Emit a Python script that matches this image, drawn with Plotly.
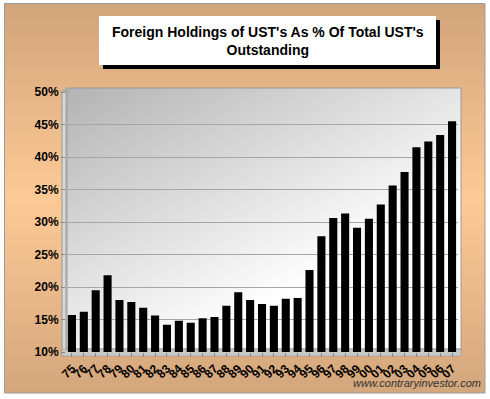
import base64
import plotly.graph_objects as go

years = ["75", "76", "77", "78", "79", "80", "81", "82", "83", "84", "85", "86",
         "87", "88", "89", "90", "91", "92", "93", "94", "95", "96", "97", "98",
         "99", "00", "01", "02", "03", "04", "05", "06", "07"]
foreign_pct = [15.7, 16.2, 19.5, 21.8, 18.0, 17.7, 16.8, 15.6, 14.2, 14.8, 14.5, 15.2,
               15.4, 17.1, 19.2, 18.0, 17.4, 17.1, 18.2, 18.3, 22.6, 27.8, 30.6, 31.3,
               29.1, 30.5, 32.7, 35.6, 37.7, 41.5, 42.4, 43.4, 45.5]
y_ticks = [10, 15, 20, 25, 30, 35, 40, 45, 50]
y_ticktext = [f"{v}%" for v in y_ticks]

W, H = 490, 399
L, R, T, B = 66, 32, 92, 47
PW, PH = W - L - R, H - T - B


def px(x):
    return (x - L) / PW


def py(y):
    return (H - B - y) / PH


def svg_uri(svg):
    return "data:image/svg+xml;base64," + base64.b64encode(svg.encode()).decode()


tan_svg = ('<svg xmlns="http://www.w3.org/2000/svg" width="100" height="100" preserveAspectRatio="none" viewBox="0 0 100 100">'
           '<defs><linearGradient id="g" x1="0" y1="0" x2="0" y2="1">'
           '<stop offset="0" stop-color="#D1A47A"/><stop offset="0.5" stop-color="#FDCA96"/>'
           '<stop offset="1" stop-color="#D3A67C"/></linearGradient></defs>'
           '<rect width="100" height="100" fill="url(#g)"/></svg>')
plot_svg = ('<svg xmlns="http://www.w3.org/2000/svg" width="100" height="100" preserveAspectRatio="none" viewBox="0 0 100 100">'
            '<defs><linearGradient id="p" x1="0" y1="0" x2="0.8" y2="1">'
            '<stop offset="0" stop-color="#B3B3B3"/><stop offset="0.75" stop-color="#FFFFFF"/>'
            '<stop offset="1" stop-color="#FFFFFF"/></linearGradient></defs>'
            '<rect width="100" height="100" fill="url(#p)"/></svg>')

fig = go.Figure()
fig.add_trace(go.Bar(x=years, y=foreign_pct, marker=dict(color="#000000", line=dict(width=0)),
                     width=0.68, hoverinfo="x+y"))

images = [
    dict(source=svg_uri(tan_svg), xref="paper", yref="paper", x=px(5), y=py(4),
         sizex=px(485) - px(5), sizey=py(4) - py(393), sizing="stretch",
         xanchor="left", yanchor="top", layer="below"),
    dict(source=svg_uri(plot_svg), xref="paper", yref="paper", x=px(66), y=py(88),
         sizex=px(461) - px(66), sizey=py(88) - py(352), sizing="stretch",
         xanchor="left", yanchor="top", layer="below"),
]

shapes = [
    # left wall
    dict(type="rect", xref="paper", yref="paper", x0=px(62), x1=px(67), y0=py(356), y1=py(91),
         fillcolor="#D8D8D8", line=dict(color="#999999", width=1), layer="below"),
    # floor
    dict(type="rect", xref="paper", yref="paper", x0=px(62), x1=px(461), y0=py(356), y1=py(349),
         fillcolor="#C8C8C8", line=dict(color="#999999", width=0.5), layer="below"),
    # plot border
    dict(type="rect", xref="paper", yref="paper", x0=px(66), x1=px(461), y0=py(349), y1=py(88),
         fillcolor="rgba(0,0,0,0)", line=dict(color="#9A9A9A", width=1), layer="below"),
    # tan border line
    dict(type="rect", xref="paper", yref="paper", x0=px(4.5), x1=px(485), y0=py(393), y1=py(3.5),
         fillcolor="rgba(0,0,0,0)", line=dict(color="#9C9C9C", width=1), layer="below"),
    # title box shadow
    dict(type="rect", xref="paper", yref="paper", x0=px(103), x1=px(440), y0=py(69), y1=py(20),
         fillcolor="#000000", line=dict(width=0), layer="above"),
    # title box
    dict(type="rect", xref="paper", yref="paper", x0=px(99), x1=px(436), y0=py(65), y1=py(16),
         fillcolor="#FFFFFF", line=dict(width=0), layer="above"),
]

annotations = [
    dict(text="<b>Foreign Holdings of UST's As % Of Total UST's<br>Outstanding</b>",
         xref="paper", yref="paper", x=px(267.5), y=py(41), xanchor="center", yanchor="middle",
         showarrow=False, font=dict(family="Liberation Sans, Arial", size=14, color="#000000"),
         align="center"),
    dict(text="<i>www.contraryinvestor.com</i>", xref="paper", yref="paper",
         x=px(483), y=py(383), xanchor="right", yanchor="middle", showarrow=False,
         font=dict(family="Liberation Sans, Arial", size=11, color="#333333")),
]

fig.update_layout(
    width=W, height=H,
    margin=dict(l=L, r=R, t=T, b=B, autoexpand=False),
    paper_bgcolor="#FFFFFF", plot_bgcolor="rgba(0,0,0,0)",
    showlegend=False, bargap=0.3,
    images=images, shapes=shapes, annotations=annotations,
    font=dict(family="Liberation Sans, Arial", color="#000000"),
    xaxis=dict(type="category", range=[-0.5, 32.5], tickangle=-45,
               tickmode="linear", tick0=0, dtick=1,
               tickfont=dict(size=12, family="Liberation Sans, Arial", weight="bold"),
               ticks="outside", ticklen=4, tickcolor="#888888", showgrid=False,
               showline=False, zeroline=False, fixedrange=True),
    yaxis=dict(range=[10, 50], tickvals=y_ticks, ticktext=y_ticktext,
               tickfont=dict(size=12, family="Liberation Sans, Arial", weight="bold"),
               ticks="outside", ticklen=4, tickcolor="#888888",
               showgrid=True, gridcolor="#A6A6A6", gridwidth=1,
               showline=False, zeroline=False, fixedrange=True),
)

fig.write_html("out.html", config={"displayModeBar": False},
               post_script="document.body.style.margin='0';document.body.style.overflow='hidden';")
